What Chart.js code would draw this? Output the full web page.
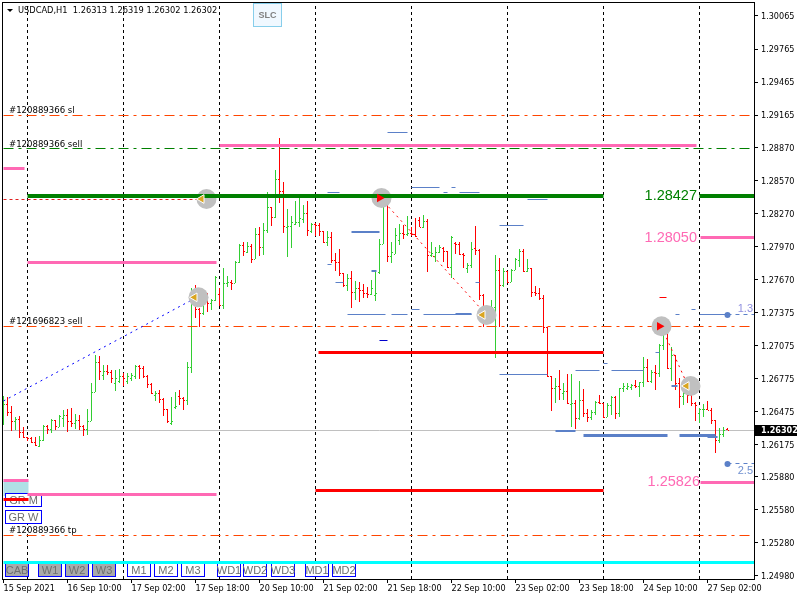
<!DOCTYPE html>
<html>
<head>
<meta charset="utf-8">
<title>USDCAD,H1</title>
<script src="https://cdn.jsdelivr.net/npm/chart.js@4/dist/chart.umd.min.js"></script>
<style>
  html, body { margin: 0; padding: 0; background: #fff; }
  #wrap { width: 800px; height: 600px; }
</style>
</head>
<body>
<div id="wrap"><canvas id="chart"></canvas></div>
<script>
const opens = [1.26396,1.26542,1.26469,1.26387,1.26405,1.26287,1.26242,1.26233,1.26197,1.26160,1.26215,1.26342,1.26315,1.26396,1.26333,1.26415,1.26442,1.26387,1.26369,1.26396,1.26342,1.26315,1.26387,1.26651,1.26923,1.26805,1.26841,1.26832,1.26732,1.26751,1.26796,1.26751,1.26778,1.26796,1.26887,1.26869,1.26796,1.26723,1.26623,1.26642,1.26587,1.26496,1.26369,1.26514,1.26614,1.26596,1.26578,1.26878,1.27504,1.27404,1.27368,1.27522,1.27459,1.27486,1.27540,1.27441,1.27640,1.27649,1.27640,1.27831,1.27985,1.27922,1.27976,1.27858,1.28085,1.27967,1.28122,1.28330,1.28240,1.28585,1.28476,1.28149,1.28158,1.28176,1.28194,1.28221,1.28276,1.28113,1.28176,1.28167,1.28113,1.28013,1.28058,1.27849,1.27831,1.27731,1.27622,1.27686,1.27559,1.27595,1.27577,1.27550,1.27540,1.27531,1.27740,1.27995,1.28349,1.27886,1.27904,1.28031,1.28094,1.28085,1.28094,1.28085,1.28212,1.28149,1.28203,1.27895,1.27886,1.27922,1.27958,1.27931,1.27786,1.28004,1.27995,1.27904,1.27777,1.27804,1.27958,1.27940,1.27531,1.27432,1.27323,1.27422,1.27758,1.27622,1.27749,1.27649,1.27758,1.27849,1.27931,1.27749,1.27777,1.27559,1.27550,1.27504,1.27241,1.26796,1.26687,1.26705,1.26642,1.26660,1.26542,1.26551,1.26415,1.26578,1.26460,1.26424,1.26469,1.26560,1.26551,1.26424,1.26533,1.26605,1.26460,1.26687,1.26687,1.26696,1.26714,1.26705,1.26741,1.26878,1.26751,1.26832,1.26823,1.27077,1.27241,1.26869,1.26987,1.26732,1.26614,1.26642,1.26623,1.26551,1.26460,1.26496,1.26500,1.26490,1.26396,1.26215,1.26269,1.26313];
const highs = [1.26614,1.26605,1.26524,1.26424,1.26433,1.26333,1.26242,1.26242,1.26242,1.26251,1.26351,1.26351,1.26405,1.26396,1.26442,1.26487,1.26496,1.26505,1.26451,1.26442,1.26351,1.26496,1.26732,1.26987,1.26978,1.26896,1.26896,1.26850,1.26850,1.26859,1.26823,1.26823,1.26823,1.26896,1.26896,1.26887,1.26805,1.26732,1.26660,1.26669,1.26596,1.26496,1.26605,1.26651,1.26669,1.26605,1.26923,1.27595,1.27622,1.27413,1.27577,1.27550,1.27495,1.27704,1.27595,1.27777,1.27704,1.27668,1.27840,1.27995,1.28013,1.28013,1.27995,1.28140,1.28149,1.28185,1.28467,1.28330,1.28666,1.28957,1.28557,1.28312,1.28249,1.28385,1.28412,1.28349,1.28385,1.28185,1.28185,1.28185,1.28113,1.28113,1.28103,1.27913,1.27949,1.27731,1.27722,1.27749,1.27659,1.27649,1.27631,1.27604,1.27668,1.27740,1.28040,1.28476,1.28403,1.28013,1.28140,1.28176,1.28167,1.28249,1.28149,1.28231,1.28240,1.28258,1.28221,1.28013,1.27967,1.27985,1.27967,1.27931,1.28067,1.28013,1.28013,1.27913,1.27822,1.28013,1.28158,1.27949,1.27540,1.27432,1.27486,1.27895,1.27867,1.27777,1.27749,1.27767,1.27867,1.27949,1.27949,1.27858,1.27777,1.27613,1.27595,1.27531,1.27241,1.26796,1.26778,1.26850,1.26732,1.26814,1.26814,1.26578,1.26751,1.26678,1.26496,1.26487,1.26569,1.26623,1.26551,1.26551,1.26614,1.26614,1.26687,1.26732,1.26732,1.26723,1.26760,1.26741,1.26968,1.26950,1.26850,1.26896,1.27086,1.27295,1.27277,1.27059,1.26987,1.26778,1.26678,1.26678,1.26623,1.26560,1.26505,1.26542,1.26569,1.26505,1.26396,1.26324,1.26333,1.26319];
const lows = [1.26351,1.26433,1.26297,1.26306,1.26233,1.26233,1.26206,1.26188,1.26160,1.26151,1.26206,1.26269,1.26278,1.26306,1.26333,1.26333,1.26287,1.26333,1.26315,1.26306,1.26251,1.26260,1.26387,1.26651,1.26760,1.26760,1.26805,1.26732,1.26660,1.26732,1.26705,1.26723,1.26751,1.26769,1.26769,1.26778,1.26687,1.26632,1.26569,1.26551,1.26433,1.26369,1.26351,1.26496,1.26533,1.26487,1.26533,1.26823,1.27323,1.27241,1.27350,1.27377,1.27395,1.27477,1.27432,1.27404,1.27604,1.27577,1.27640,1.27822,1.27886,1.27913,1.27822,1.27858,1.27886,1.27895,1.28094,1.28158,1.28231,1.28367,1.28094,1.27876,1.27958,1.28167,1.28149,1.28185,1.28067,1.28094,1.28067,1.28067,1.28004,1.27976,1.27822,1.27749,1.27704,1.27604,1.27568,1.27413,1.27486,1.27468,1.27504,1.27504,1.27531,1.27477,1.27722,1.27995,1.27831,1.27822,1.27904,1.27985,1.28040,1.28067,1.28067,1.28058,1.28149,1.28140,1.27740,1.27876,1.27831,1.27913,1.27831,1.27777,1.27686,1.27904,1.27895,1.27777,1.27731,1.27777,1.27895,1.27486,1.27241,1.27268,1.27304,1.26959,1.27241,1.27604,1.27640,1.27649,1.27758,1.27786,1.27740,1.27740,1.27513,1.27522,1.27486,1.27186,1.26787,1.26478,1.26551,1.26578,1.26578,1.26542,1.26333,1.26315,1.26396,1.26424,1.26378,1.26396,1.26442,1.26542,1.26415,1.26424,1.26442,1.26405,1.26424,1.26651,1.26669,1.26669,1.26687,1.26605,1.26696,1.26741,1.26732,1.26669,1.26787,1.27032,1.26859,1.26751,1.26669,1.26505,1.26533,1.26551,1.26524,1.26387,1.26369,1.26424,1.26487,1.26360,1.26097,1.26188,1.26242,1.26302];
const closes = [1.26542,1.26469,1.26387,1.26405,1.26287,1.26242,1.26233,1.26197,1.26169,1.26215,1.26342,1.26315,1.26396,1.26342,1.26433,1.26442,1.26387,1.26369,1.26396,1.26342,1.26315,1.26387,1.26651,1.26923,1.26841,1.26841,1.26832,1.26778,1.26778,1.26796,1.26778,1.26796,1.26805,1.26887,1.26869,1.26796,1.26723,1.26642,1.26642,1.26587,1.26496,1.26387,1.26387,1.26524,1.26596,1.26578,1.26878,1.27504,1.27404,1.27368,1.27522,1.27459,1.27486,1.27695,1.27441,1.27640,1.27649,1.27640,1.27831,1.27985,1.27931,1.27976,1.27858,1.28085,1.27967,1.28122,1.28330,1.28240,1.28585,1.28476,1.28158,1.28158,1.28194,1.28194,1.28231,1.28276,1.28122,1.28176,1.28167,1.28113,1.28013,1.28058,1.27849,1.27831,1.27731,1.27622,1.27686,1.27559,1.27595,1.27577,1.27550,1.27540,1.27595,1.27550,1.27995,1.28349,1.27886,1.27922,1.28076,1.28094,1.28085,1.28094,1.28085,1.28067,1.28149,1.28203,1.27895,1.27913,1.27922,1.27967,1.27931,1.27786,1.28058,1.27995,1.27904,1.27895,1.27804,1.27949,1.27940,1.27531,1.27432,1.27323,1.27422,1.27758,1.27622,1.27749,1.27649,1.27758,1.27858,1.27931,1.27749,1.27777,1.27559,1.27550,1.27504,1.27241,1.26796,1.26687,1.26705,1.26678,1.26660,1.26551,1.26551,1.26415,1.26578,1.26460,1.26424,1.26469,1.26560,1.26551,1.26424,1.26533,1.26605,1.26460,1.26687,1.26705,1.26705,1.26714,1.26705,1.26741,1.26878,1.26751,1.26832,1.26823,1.27077,1.27241,1.26869,1.26987,1.26732,1.26614,1.26642,1.26623,1.26551,1.26533,1.26496,1.26500,1.26490,1.26396,1.26215,1.26269,1.26306,1.26302];

const priceTicks = [1.30065,1.29765,1.29465,1.29165,1.28870,1.28570,1.28270,1.27970,1.27670,1.27375,1.27075,1.26775,1.26475,1.26175,1.25880,1.25580,1.25280,1.24980];
const timeLabels = ["15 Sep 2021","16 Sep 10:00","17 Sep 02:00","17 Sep 18:00","20 Sep 10:00","21 Sep 02:00","21 Sep 18:00","22 Sep 10:00","23 Sep 02:00","23 Sep 18:00","24 Sep 10:00","27 Sep 02:00"];
const periodBars = [6,30,54,78,102,126,150,174];

// [from bar, to bar, price]
const greenLevels = [[6,150,1.28427],[174,188,1.28427]];
const pinkLevels = [[54,173.25,1.28889],[0,5.25,1.28676],[6,53.25,1.27822],[174.25,188,1.28050],[0,6.25,1.25842],[6,53.25,1.25715],[174.25,188,1.25826]];
const redLevels = [[78.75,150,1.27011],[78,150,1.25756],[0,6.25,1.25676]];
const cyanLevels = [[0,188,1.25104]];
const boxLevels = [[0,6.25,1.25775]];
const orangeLevels = [[0,188,1.29163],[0,188,1.27247],[0,188,1.25349]];
const tradeLevels = [[0,188,1.28864]];
const entryLevels = [[0,49.5,1.28398]];
const lastPrice = [[0,188,1.26302]];
const orderLevels = [[96,101,1.29003],[81,84,1.28458],[102,109,1.28503],[110,111,1.28458],[112,113,1.28503],[114,119,1.28458],[131,136,1.28403],[124,130,1.28158],[81,82,1.27804],[83,85,1.27649],[86,95.5,1.27350],[97,101,1.27350],[102,104,1.27404],[105,117,1.27350],[118,119,1.27649],[124,136,1.26805],[143,149,1.26850],[152,160,1.26850],[150,151,1.26905],[163,164,1.27005],[168,169,1.27350],[172,173,1.27404],[174,181,1.27350]];
const orderLevelsBold = [[87,94,1.28103],[92,93.25,1.27749],[167,168.5,1.26705],[138,143,1.26297],[176,178.5,1.26242],[113,117,1.27355]];
const orderLevelsHeavy = [[145,166,1.26251],[169,178,1.26251]];
const markerLevels = [[94,96,1.27114]];
const stubLevels = [[164,165.75,1.27504]];
const dashedStubs = [[181,188,1.27350],[181,188,1.25997]];
const stubDots = [[181,1.27350],[181,1.25997]];

const blueTrend = [[0,1.26569],[48,1.27504]];
const redTrendA = [[94.25,1.28412],[120.75,1.27350]];
const redTrendB = [[164.5,1.27241],[171.25,1.26696]];

const circles = [[50.75,1.28403],[48.75,1.27510],[94.5,1.28412],[120.75,1.27350],[164.5,1.27247],[171.75,1.26705]];
const sellArrows = [[49.5,1.28403],[47.75,1.27510],[119.75,1.27350],[170.75,1.26705]];
const buyArrows = [[94,1.28412],[164,1.27247]];

const targetPrices = [1.28427,1.28050,1.25826];
const orderTags = [["#120889366 sl",1.29210],["#120889366 sell",1.28900],["#121696823 sell",1.27290],["#120889366 tp",1.25395]];
const topButtons = ["CAB","W1","W2","W3"];
const lowerButtons = ["M1","M2","M3","WD1","WD2","WD3","MD1","MD2"];

const tickFont = '"DejaVu Sans Condensed", "Liberation Sans", sans-serif';
const last = closes.length - 1;

function segment(rows, color, width, dash, order) {
  return rows.map(r => ({
    type: "line",
    data: [{ x: r[0], y: r[2] }, { x: r[1], y: r[2] }],
    borderColor: color,
    borderWidth: width,
    borderDash: dash || [],
    pointRadius: 0,
    snap: width,
    order: order
  }));
}

function trend(points, color) {
  return {
    type: "line",
    data: points.map(p => ({ x: p[0], y: p[1] })),
    borderColor: color,
    borderWidth: 1,
    borderDash: [2, 4],
    pointRadius: 0,
    order: 3
  };
}

function marks(points, style, radius, color, rotation, order, edge) {
  return {
    type: "line",
    data: points.map(p => ({ x: p[0], y: p[1] })),
    showLine: false,
    pointStyle: style,
    pointRadius: radius,
    pointRotation: rotation,
    pointBackgroundColor: color,
    pointBorderColor: edge || color,
    pointBorderWidth: edge ? 1 : 0,
    order: order
  };
}

const periodLines = periodBars.map(b => ({
  type: "line",
  data: [{ x: b, y: 1.24952 }, { x: b, y: 1.30183 }],
  borderColor: "#000",
  borderWidth: 1,
  borderDash: [3, 3],
  pointRadius: 0,
  snapX: true,
  order: 9
}));

const barSet = {
  type: "bar",
  label: "USDCAD,H1",
  data: opens.map((_, i) => ({ x: i, y: [lows[i], highs[i]] })),
  backgroundColor: ctx => closes[ctx.dataIndex] >= opens[ctx.dataIndex] ? "#32cd32" : "#ff0000",
  barThickness: 1,
  inflateAmount: 0,
  grouped: false,
  isBars: true,
  order: 5
};

const datasets = [
  ...periodLines,
  ...segment(lastPrice, "#c0c0c0", 1, null, 8),
  ...segment(boxLevels, "#b0e0e6", 15, null, 7),
  barSet,
  ...segment(orangeLevels, "#ff4500", 1, [10, 5, 3, 5], 4),
  ...segment(tradeLevels, "#008000", 1, [10, 5, 3, 5], 4),
  ...segment(entryLevels, "#e02020", 1, [3, 3], 4),
  marks(circles, "circle", 10, "#c0c0c0", 0, 3),
  trend(blueTrend, "#0000ff"),
  trend(redTrendA, "#ff0000"),
  trend(redTrendB, "#ff0000"),
  ...segment(greenLevels, "#008000", 4, null, 2),
  ...segment(pinkLevels, "#ff69b4", 3, null, 2),
  ...segment(redLevels, "#ff0000", 3, null, 2),
  ...segment(cyanLevels, "#00ffff", 3, null, 2),
  ...segment(orderLevels, "#5b80c8", 1, null, 2),
  ...segment(orderLevelsBold, "#5b80c8", 2, null, 2),
  ...segment(orderLevelsHeavy, "#5b80c8", 3, null, 2),
  ...segment(markerLevels, "#0000cd", 1, null, 2),
  ...segment(stubLevels, "#ff0000", 1, null, 2),
  ...segment(dashedStubs, "#5b80c8", 1, [4, 4], 2),
  marks(stubDots, "circle", 3, "#5b80c8", 0, 2),
  marks(sellArrows, "triangle", 5, "#daa520", -90, 1, "#fff"),
  marks(buyArrows, "triangle", 5, "#ff0000", 90, 1)
];

function button(ctx, text, x, y, w, h, fill) {
  ctx.fillStyle = fill;
  ctx.fillRect(x, y, w, h);
  ctx.strokeStyle = "#0000ff";
  ctx.lineWidth = 1;
  ctx.strokeRect(x + 0.5, y + 0.5, w - 1, h - 1);
  ctx.fillStyle = "#6e6e6e";
  ctx.font = '11px "Liberation Sans", sans-serif';
  ctx.textAlign = "center";
  ctx.textBaseline = "middle";
  ctx.fillText(text, x + w / 2, y + h / 2 + 0.5);
}

const mt4Plugin = {
  id: "mt4",
  beforeDraw(chart) {
    // canvas "middle" baseline sits a bit high for this font
    const items = chart.scales.y.getLabelItems();
    if (!items.shifted) {
      items.forEach(it => { it.options.translation[1] += 1; });
      items.shifted = true;
    }
  },
  beforeDatasetsDraw(chart) {
    chart.data.datasets.forEach((ds, n) => {
      const els = chart.getDatasetMeta(n).data;
      if (ds.isBars) {
        els.forEach(el => { el.y = Math.round(el.y); el.base = Math.round(el.base); });
      } else if (ds.snap) {
        const off = ds.snap % 2 ? 0.5 : 0;
        els.forEach(el => { el.y = Math.round(el.y - off) + off; });
      } else if (ds.snapX) {
        els.forEach(el => { el.x = Math.floor(el.x) + 0.5; });
      }
    });
  },
  afterDatasetDraw(chart, args) {
    if (!chart.data.datasets[args.index].isBars) return;
    const ctx = chart.ctx, xs = chart.scales.x, ys = chart.scales.y;
    ctx.save();
    opens.forEach((o, i) => {
      const x = Math.floor(xs.getPixelForValue(i));
      ctx.fillStyle = closes[i] >= o ? "#32cd32" : "#ff0000";
      ctx.fillRect(x - 1, Math.round(ys.getPixelForValue(o)), 1, 1);
      ctx.fillRect(x + 1, Math.round(ys.getPixelForValue(closes[i])), 1, 1);
    });
    button(ctx, "GR M", 5, 493, 37, 14, "#fff");
    button(ctx, "GR W", 5, 510, 37, 14, "#fff");
    topButtons.forEach((t, k) => {
      button(ctx, t, k === 0 ? 5 : 38 + (k - 1) * 27, 563, 24, 14, "#a9a9a9");
    });
    const lowerX = [127, 154, 181, 217, 243, 271, 305, 332];
    lowerButtons.forEach((t, k) => button(ctx, t, lowerX[k], 563, 24, 14, "#fff"));
    ctx.restore();
  },
  afterDatasetsDraw(chart) {
    const ctx = chart.ctx, ys = chart.scales.y, area = chart.chartArea;
    ctx.save();
    ctx.textBaseline = "middle";

    ctx.fillStyle = "#000";
    ctx.beginPath();
    ctx.moveTo(7, 9);
    ctx.lineTo(13, 9);
    ctx.lineTo(10, 12);
    ctx.closePath();
    ctx.fill();

    ctx.textAlign = "left";
    ctx.font = "9.2px " + tickFont;
    ctx.fillText("USDCAD,H1  " + [opens[last], highs[last], lows[last], closes[last]].map(v => v.toFixed(5)).join(" "), 18, 10.5);

    ctx.font = "9.5px " + tickFont;
    orderTags.forEach(t => ctx.fillText(t[0], 9, ys.getPixelForValue(t[1])));

    ctx.font = '14.5px "Liberation Sans", sans-serif';
    ctx.textAlign = "right";
    targetPrices.forEach((p, k) => {
      ctx.fillStyle = k === 0 ? "#008000" : "#ff69b4";
      ctx.fillText(p.toFixed(5), k === 2 ? 700 : 697, ys.getPixelForValue(p) - (k === 2 ? 1 : 0));
    });

    ctx.font = '11px "Liberation Sans", sans-serif';
    ctx.fillStyle = "#9090e0";
    ctx.fillText("1.3", 753, ys.getPixelForValue(1.27350) - 6);
    ctx.fillStyle = "#7090d0";
    ctx.fillText("2.5", 753, ys.getPixelForValue(1.25997) + 7);

    ctx.fillStyle = "#f0f8ff";
    ctx.fillRect(253, 3, 29, 24);
    ctx.strokeStyle = "#87ceeb";
    ctx.strokeRect(253.5, 3.5, 28, 23);
    ctx.fillStyle = "#808080";
    ctx.font = 'bold 9px "Liberation Sans", sans-serif';
    ctx.textAlign = "center";
    ctx.fillText("SLC", 267.5, 15.5);

    ctx.strokeStyle = "#000";
    ctx.lineWidth = 1;
    ctx.strokeRect(area.left - 0.5, area.top - 0.5, area.right - area.left + 1, area.bottom - area.top + 1);

    ctx.fillStyle = "#000";
    ctx.fillRect(755, 425, 42, 11);
    ctx.fillStyle = "#fff";
    ctx.font = "bold 9px " + tickFont;
    ctx.textAlign = "left";
    ctx.fillText(closes[last].toFixed(5), 761, 431);
    ctx.restore();
  }
};

new Chart(document.getElementById("chart"), {
  type: "bar",
  data: { datasets: datasets },
  plugins: [mt4Plugin],
  options: {
    responsive: true,
    maintainAspectRatio: false,
    animation: false,
    layout: { autoPadding: false, padding: { left: 3, top: 3, right: 0, bottom: 0 } },
    plugins: { legend: { display: false }, tooltip: { enabled: false } },
    scales: {
      x: {
        type: "linear",
        offset: false,
        min: -0.125,
        max: 187.625,
        grid: { offset: false, drawOnChartArea: false, drawTicks: true, tickLength: 4, color: "#000" },
        border: { color: "#000" },
        afterBuildTicks: s => { s.ticks = timeLabels.map((_, k) => ({ value: k * 16 })); },
        afterFit: s => { s.height = 21; s.paddingLeft = 0; s.paddingRight = 0; },
        ticks: {
          autoSkip: false,
          maxRotation: 0,
          align: "start",
          padding: 0,
          color: "#000",
          font: { family: tickFont, size: 9 },
          callback: v => timeLabels[v / 16]
        }
      },
      y: {
        position: "right",
        min: 1.24952,
        max: 1.30183,
        grid: { drawOnChartArea: false, drawTicks: true, tickLength: 4, color: "#000" },
        border: { color: "#000" },
        afterBuildTicks: s => { s.ticks = priceTicks.map(v => ({ value: v })); },
        afterFit: s => { s.width = 46; s.paddingTop = 0; s.paddingBottom = 0; },
        ticks: {
          autoSkip: false,
          padding: 3,
          color: "#000",
          font: { family: tickFont, size: 9 },
          callback: v => v.toFixed(5)
        }
      }
    }
  }
});
</script>
</body>
</html>
